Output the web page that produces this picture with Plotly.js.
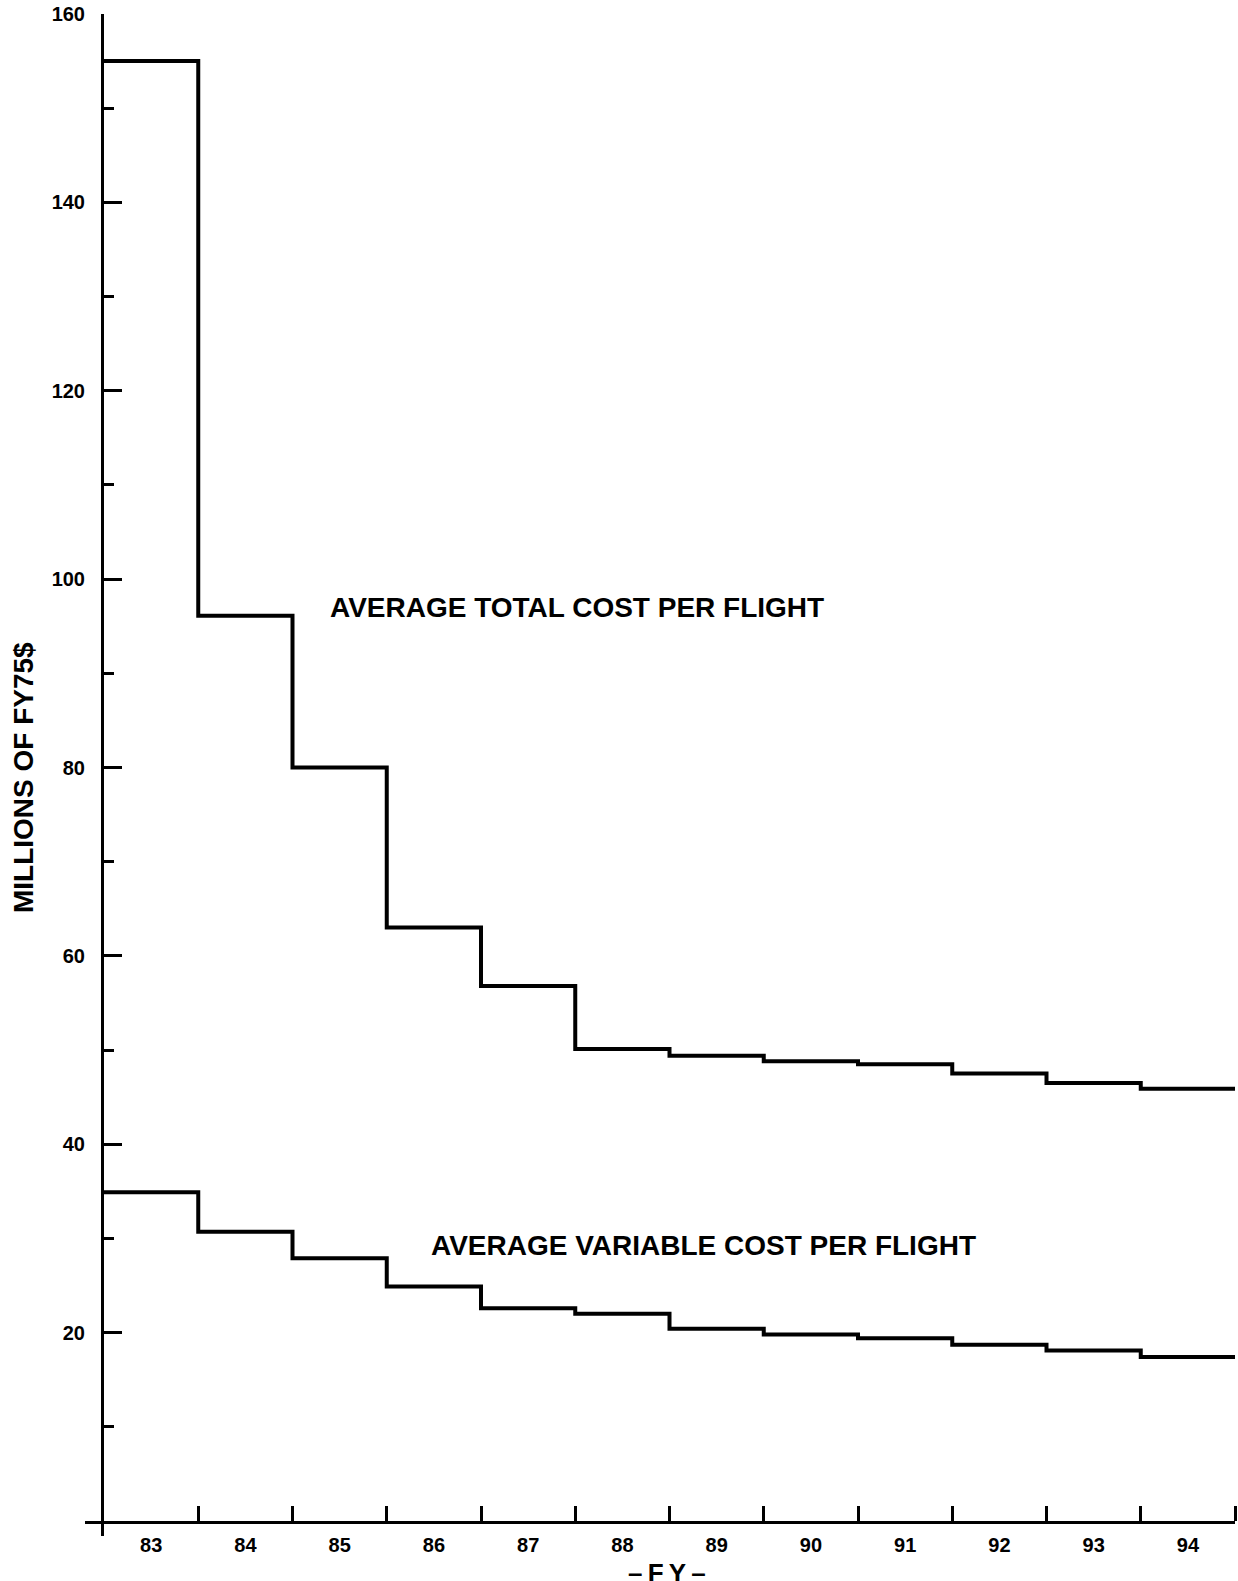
<!DOCTYPE html>
<html>
<head>
<meta charset="utf-8">
<script src="https://cdn.plot.ly/plotly-3.0.1.min.js"></script>
<style>
  html, body { margin: 0; padding: 0; background: #ffffff; }
  #chart { width: 1238px; height: 1581px; }
</style>
</head>
<body>
<div id="chart"></div>
<script>
// Fiscal years (categories)
const years = [83, 84, 85, 86, 87, 88, 89, 90, 91, 92, 93, 94];
const yearLabels = ['83', '84', '85', '86', '87', '88', '89', '90', '91', '92', '93', '94'];

// Millions of FY75$
const totalCost = [155, 96.1, 80.0, 63.0, 56.8, 50.1, 49.4, 48.8, 48.5, 47.5, 46.5, 45.9];
const variableCost = [34.9, 30.7, 27.9, 24.9, 22.6, 22.0, 20.4, 19.8, 19.4, 18.7, 18.1, 17.4];

// Y axis ticks
const yMajor = [0, 20, 40, 60, 80, 100, 120, 140, 160];
const yMajorText = ['', '20', '40', '60', '80', '100', '120', '140', '160'];
const yMinor = [10, 30, 50, 70, 90, 110, 130, 150];

const totalLabel = 'AVERAGE TOTAL COST PER FLIGHT';
const variableLabel = 'AVERAGE VARIABLE COST PER FLIGHT';

// step edges: each fiscal year spans [year-0.5, year+0.5]
const edges = years.map(y => y - 0.5).concat([years[years.length - 1] + 0.5]);
const boundaries = years.map(y => y + 0.5);
const stepY = arr => arr.concat([arr[arr.length - 1]]);

const FONT = 'Liberation Sans, Arial, Helvetica, sans-serif';

const traces = [
  {
    x: edges, y: stepY(totalCost), type: 'scatter', mode: 'lines',
    line: { shape: 'hv', color: '#000', width: 4 },
    hoverinfo: 'skip', showlegend: false
  },
  {
    x: edges, y: stepY(variableCost), type: 'scatter', mode: 'lines',
    line: { shape: 'hv', color: '#000', width: 4 },
    hoverinfo: 'skip', showlegend: false
  }
];

const layout = {
  width: 1238, height: 1581,
  margin: { l: 104, r: 3, t: 14, b: 60 },
  paper_bgcolor: '#fff', plot_bgcolor: '#fff',
  showlegend: false,
  font: { family: FONT, color: '#000' },
  xaxis: {
    range: [edges[0], edges[edges.length - 1]],
    tickmode: 'array', tickvals: years, ticktext: yearLabels,
    ticks: '', showgrid: false, zeroline: false,
    showline: true, linecolor: '#000', linewidth: 3,
    tickfont: { family: FONT, size: 20, weight: 'bold', color: '#000' },
    ticklabelstandoff: 4,
    minor: { tickmode: 'array', tickvals: boundaries, ticks: 'inside', ticklen: 15, tickwidth: 3, tickcolor: '#000', showgrid: false },
    fixedrange: true
  },
  yaxis: {
    range: [0, 160],
    tickmode: 'array', tickvals: yMajor, ticktext: yMajorText,
    ticks: 'inside', ticklen: 18, tickwidth: 3, tickcolor: '#000',
    showgrid: false, zeroline: false,
    showline: true, linecolor: '#000', linewidth: 3,
    tickfont: { family: FONT, size: 20, weight: 'bold', color: '#000' },
    ticklabelstandoff: 12,
    minor: { tickmode: 'array', tickvals: yMinor, ticks: 'inside', ticklen: 10, tickwidth: 3, tickcolor: '#000', showgrid: false },
    fixedrange: true
  },
  shapes: [
    { type: 'line', xref: 'paper', yref: 'paper',
      xsizemode: 'pixel', xanchor: 0, x0: -1.5, x1: -1.5,
      ysizemode: 'pixel', yanchor: 0, y0: -1.5, y1: -15,
      line: { color: '#000', width: 3 } },
    { type: 'line', xref: 'paper', yref: 'paper',
      xsizemode: 'pixel', xanchor: 0, x0: -1.5, x1: -19,
      ysizemode: 'pixel', yanchor: 0, y0: -1.5, y1: -1.5,
      line: { color: '#000', width: 3 } }
  ],
  annotations: [
    { text: totalLabel, xref: 'x', yref: 'y', x: 84.88, y: 97.0,
      xanchor: 'left', yanchor: 'middle', showarrow: false,
      font: { family: FONT, size: 28, weight: 'bold', color: '#000' } },
    { text: variableLabel, xref: 'x', yref: 'y', x: 85.95, y: 29.3,
      xanchor: 'left', yanchor: 'middle', showarrow: false,
      font: { family: FONT, size: 28, weight: 'bold', color: '#000' } },
    { text: 'MILLIONS OF FY75$', xref: 'paper', yref: 'paper', x: -0.0716, y: 0.493,
      xanchor: 'center', yanchor: 'middle', textangle: -90, showarrow: false,
      font: { family: FONT, size: 28, weight: 'bold', color: '#000' } },
    { text: '\u2013\u2009F\u2009Y\u2009\u2013', xref: 'paper', yref: 'paper', x: 0.4978, y: -0.0345,
      xanchor: 'center', yanchor: 'middle', showarrow: false,
      font: { family: FONT, size: 26, weight: 'bold', color: '#000' } }
  ]
};

Plotly.newPlot('chart', traces, layout, { displayModeBar: false, staticPlot: true });
</script>
</body>
</html>
